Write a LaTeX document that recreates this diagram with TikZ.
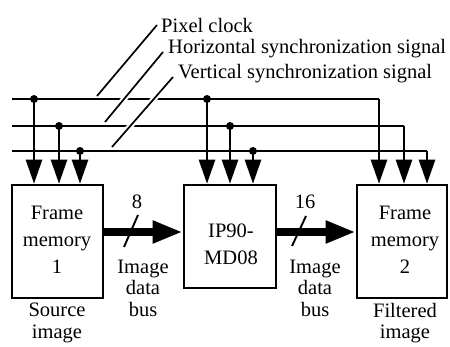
\documentclass[tikz,border=0pt]{standalone}
\usepackage{fontspec}
\setmainfont{Liberation Serif}
\usetikzlibrary{arrows.meta}
\begin{document}
\begin{tikzpicture}[x=1pt,y=-1pt,
  sig/.style={line width=2.6pt},
  sigarrow/.style={sig,-{Triangle[length=24pt,width=16pt]}},
  busarrow/.style={line width=8.5pt,-{Triangle[length=30pt,width=21pt]}},
  blk/.style={draw,line width=2.6pt,inner sep=0pt},
  dot/.style={circle,fill,inner sep=0pt,minimum size=8pt},
  leader/.style={line width=1.7pt,preaction={draw=white,line width=6pt,shorten <=5pt,shorten >=3pt}},
  txt/.style={font=\fontsize{20.5}{21.5}\selectfont,align=center,inner sep=0pt},
  boxtxt/.style={font=\fontsize{20.5}{27}\selectfont,align=center,inner sep=0pt},
  slash/.style={line width=1.9pt}]
\useasboundingbox (0,0) rectangle (450,347);
% boxes
\node[blk,minimum width=91pt,minimum height=113pt] (b1) at (57.5,241.5) {};
\node[blk,minimum width=92pt,minimum height=103pt] (b2) at (230,236.5) {};
\node[blk,minimum width=90pt,minimum height=113pt] (b3) at (402,241.5) {};
\node[boxtxt] (t1) at (57,240) {Frame\\memory\\1};
\node[boxtxt] (t2) at (231,244) {IP90-\\MD08};
\node[boxtxt] (t3) at (405,240) {Frame\\memory\\2};
% signal lines
\coordinate (s1) at (12,99);
\coordinate (s2) at (12,126);
\coordinate (s3) at (12,151);
\node[dot] (d11) at (34,99) {};
\node[dot] (d12) at (207,99) {};
\node[dot] (d21) at (59,126) {};
\node[dot] (d22) at (230,126) {};
\node[dot] (d31) at (80,151) {};
\node[dot] (d32) at (253,151) {};
\coordinate (e1) at (379,99);
\coordinate (e2) at (404,126);
\coordinate (e3) at (427,151);
\draw[sig] (s1) -- (e1);
\draw[sig] (s2) -- (e2);
\draw[sig] (s3) -- (e3);
\draw[sigarrow] (e1) -- (e1 |- b3.north);
\draw[sigarrow] (e2) -- (e2 |- b3.north);
\draw[sigarrow] (e3) -- (e3 |- b3.north);
\draw[sigarrow] (d11.center) -- (d11 |- b1.north);
\draw[sigarrow] (d21.center) -- (d21 |- b1.north);
\draw[sigarrow] (d31.center) -- (d31 |- b1.north);
\draw[sigarrow] (d12.center) -- (d12 |- b2.north);
\draw[sigarrow] (d22.center) -- (d22 |- b2.north);
\draw[sigarrow] (d32.center) -- (d32 |- b2.north);
% labels and leaders
\node[txt,anchor=west] (l1) at (161,25) {Pixel clock};
\node[txt,anchor=west] (l2) at (168,49) {Horizontal synchronization signal};
\node[txt,anchor=west] (l3) at (178,74) {Vertical synchronization signal};
\coordinate (q1) at (97,96);
\coordinate (q2) at (105,122);
\coordinate (q3) at (112,147);
\draw[leader] (q1) -- (157,25);
\draw[leader] (q2) -- (163,52);
\draw[leader] (q3) -- (173,77);
% buses
\coordinate (bus) at (0,232);
\draw[busarrow] (b1.east |- bus) -- (b2.west |- bus);
\draw[busarrow] (b2.east |- bus) -- (b3.west |- bus);
\draw[slash] (124,247) -- (138,215);
\draw[slash] (292,246) -- (306,216);
\node[txt] (n8) at (137,202) {8};
\node[txt] (n16) at (305,202) {16};
\node[txt] (bus1) at (143,288) {Image\\data\\bus};
\node[txt] (bus2) at (315,288) {Image\\data\\bus};
\node[txt] (src) at (57,323) {Source\\image};
\node[txt] (flt) at (405,323) {Filtered\\image};
\end{tikzpicture}
\end{document}
